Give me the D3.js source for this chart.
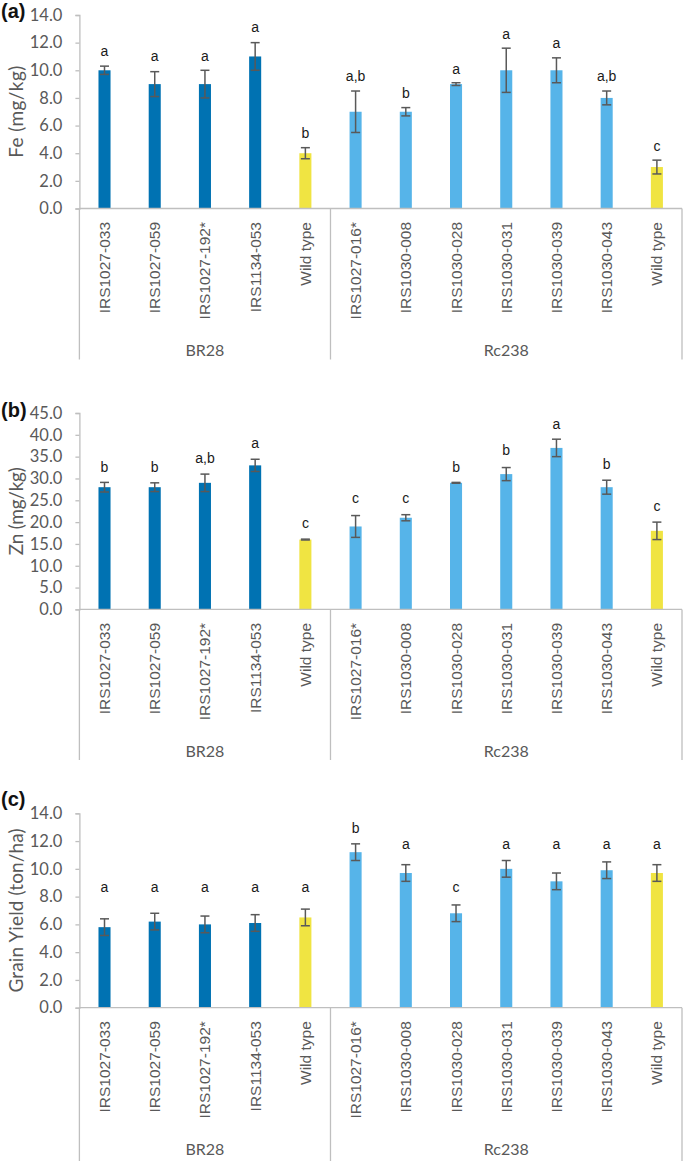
<!DOCTYPE html>
<html><head><meta charset="utf-8">
<script src="https://cdn.jsdelivr.net/npm/d3@7"></script>
<style>
html,body{margin:0;padding:0;background:#fff;}
svg{display:block;}
</style></head>
<body>
<svg id="chart" width="685" height="1161"></svg>
<script>
// ---------- data ----------
const categories = ["IRS1027-033","IRS1027-059","IRS1027-192*","IRS1134-053","Wild type",
  "IRS1027-016*","IRS1030-008","IRS1030-028","IRS1030-031","IRS1030-039","IRS1030-043","Wild type"];
const groups = ["BR28","Rc238"];
const groupSizes = [5, 7];
const barType = ["br","br","br","br","wt","rc","rc","rc","rc","rc","rc","wt"];

const feValues  = [10.0, 9.0, 9.0, 11.0, 4.0, 7.0, 7.0, 9.0, 10.0, 10.0, 8.0, 3.0];
const feErrors  = [0.3, 0.9, 1.0, 1.0, 0.4, 1.5, 0.3, 0.1, 1.6, 0.9, 0.5, 0.5];
const feLetters = ["a","a","a","a","b","a,b","b","a","a","a","a,b","c"];
const feLetterPos = [11.35, 10.98, 10.98, 13.1, 5.44, 9.54, 8.33, 10.09, 12.6, 11.95, 9.54, 4.52];
const feTicks = [0, 2, 4, 6, 8, 10, 12, 14];

const znValues  = [28, 28, 29, 33, 16, 19, 21, 29, 31, 37, 28, 18];
const znErrors  = [1.1, 1.0, 2.0, 1.4, 0.1, 2.5, 0.7, 0.1, 1.5, 2.0, 1.6, 2.0];
const znLetters = ["b","b","a,b","a","c","c","c","b","b","a","b","c"];
const znLetterPos = [32.5, 32.5, 34.5, 37.9, 19.7, 25.3, 25.3, 32.5, 36.3, 42.4, 33.3, 23.5];
const znTicks = [0, 5, 10, 15, 20, 25, 30, 35, 40, 45];

const yieldValues  = [5.8, 6.2, 6.0, 6.1, 6.5, 11.2, 9.7, 6.8, 10.0, 9.1, 9.9, 9.7];
const yieldErrors  = [0.6, 0.6, 0.6, 0.6, 0.6, 0.6, 0.6, 0.6, 0.6, 0.6, 0.6, 0.6];
const yieldLetters = ["a","a","a","a","a","b","a","c","a","a","a","a"];
const yieldLetterPos = [8.67, 8.67, 8.67, 8.67, 8.67, 12.9, 11.76, 8.64, 11.76, 11.76, 11.76, 11.76];
const yieldTicks = [0, 2, 4, 6, 8, 10, 12, 14];

const panelTags = ["(a)","(b)","(c)"];
const yTitles = ["Fe (mg/kg)","Zn (mg/kg)","Grain Yield (ton/ha)"];

// ---------- styling / layout ----------
const colors = {br:"#0072B2", rc:"#56B4E9", wt:"#F0E442"};
const gridCol = "#bfbfbf";
const textCol = "#595959";
const plotLeft = 79.4, plotRight = 682;

const panels = [
  {values:feValues, errors:feErrors, letters:feLetters, letterPos:feLetterPos, ticks:feTicks, top:15, zero:208.5, bottom:359.5, tagY:18, titleLen:92},
  {values:znValues, errors:znErrors, letters:znLetters, letterPos:znLetterPos, ticks:znTicks, top:413, zero:609.4, bottom:760, tagY:417, titleLen:88},
  {values:yieldValues, errors:yieldErrors, letters:yieldLetters, letterPos:yieldLetterPos, ticks:yieldTicks, top:813.3, zero:1007.7, bottom:1161, tagY:806, titleLen:164}
];

const svg = d3.select("#chart");
const x = d3.scaleBand().domain(d3.range(categories.length)).range([plotLeft, plotRight]).padding(0);
const barW = x.bandwidth() * 0.24;
const capW = 9;

panels.forEach((p, pi) => {
  const tmax = d3.max(p.ticks);
  const y = d3.scaleLinear().domain([0, tmax]).range([p.zero, p.top]);
  const g = svg.append("g");

  // y axis
  const yAxis = d3.axisLeft(y).tickValues(p.ticks).tickFormat(d3.format(".1f")).tickSize(4).tickPadding(13);
  const ya = g.append("g").attr("transform", `translate(${plotLeft},0)`).call(yAxis);
  ya.select(".domain").attr("stroke", gridCol).attr("stroke-width", 1.3);
  ya.selectAll(".tick line").attr("stroke", gridCol).attr("stroke-width", 1.3);
  ya.selectAll(".tick text").attr("fill", textCol).attr("font-family", "Lato, sans-serif").attr("font-size", "16.5px");

  // y title
  g.append("text")
    .attr("transform", `translate(15,${(p.top + p.zero) / 2}) rotate(-90)`)
    .attr("text-anchor", "middle").attr("dominant-baseline", "central")
    .attr("fill", textCol).attr("font-family", "Lato, sans-serif").attr("font-size", "19px")
    .attr("textLength", p.titleLen).attr("lengthAdjust", "spacing")
    .text(yTitles[pi]);

  // panel tag
  g.append("text").attr("x", 1).attr("y", p.tagY)
    .attr("font-family", "Liberation Sans, Arial, sans-serif").attr("font-weight", "bold")
    .attr("font-size", "20px").attr("fill", "#111").text(panelTags[pi]);

  // bars
  g.selectAll("rect.bar").data(p.values).enter().append("rect")
    .attr("x", (d, i) => x(i) + (x.bandwidth() - barW) / 2)
    .attr("y", d => y(d))
    .attr("width", barW)
    .attr("height", d => y(0) - y(d))
    .attr("fill", (d, i) => colors[barType[i]]);

  // error bars
  const eg = g.append("g").attr("stroke", "#595959").attr("stroke-width", 1.5);
  p.values.forEach((v, i) => {
    const cx = x(i) + x.bandwidth() / 2;
    const hi = y(v + p.errors[i]), lo = y(v - p.errors[i]);
    eg.append("line").attr("x1", cx).attr("x2", cx).attr("y1", hi).attr("y2", lo);
    eg.append("line").attr("x1", cx - capW / 2).attr("x2", cx + capW / 2).attr("y1", hi).attr("y2", hi);
    eg.append("line").attr("x1", cx - capW / 2).attr("x2", cx + capW / 2).attr("y1", lo).attr("y2", lo);
  });

  // significance letters
  g.selectAll("text.sig").data(p.letters).enter().append("text")
    .attr("x", (d, i) => x(i) + x.bandwidth() / 2)
    .attr("y", (d, i) => y(p.letterPos[i]) + 4.5)
    .attr("text-anchor", "middle")
    .attr("font-family", "Liberation Sans, Arial, sans-serif").attr("font-size", "14px")
    .attr("fill", "#1a1a1a").text(d => d);

  // x axis (multi-level)
  g.append("line").attr("x1", plotLeft).attr("x2", plotRight).attr("y1", y(0)).attr("y2", y(0))
    .attr("stroke", gridCol).attr("stroke-width", 1.3);
  let start = 0;
  const bounds = [0];
  groupSizes.forEach(s => { start += s; bounds.push(start); });
  bounds.forEach(b => {
    const bx = b < categories.length ? x(b) : plotRight;
    g.append("line").attr("x1", bx).attr("x2", bx).attr("y1", y(0)).attr("y2", p.bottom)
      .attr("stroke", gridCol).attr("stroke-width", 1.3);
  });
  groups.forEach((gn, gi) => {
    const x0 = x(bounds[gi]);
    const x1 = bounds[gi + 1] < categories.length ? x(bounds[gi + 1]) : plotRight;
    g.append("text").attr("x", (x0 + x1) / 2).attr("y", y(0) + 141)
      .attr("text-anchor", "middle").attr("dominant-baseline", "central")
      .attr("fill", textCol).attr("font-family", "Lato, sans-serif").attr("font-size", "16px")
      .text(gn);
  });

  // category labels
  g.selectAll("text.cat").data(categories).enter().append("text")
    .attr("transform", (d, i) => `translate(${x(i) + x.bandwidth() / 2},${y(0) + 13.5}) rotate(-90)`)
    .attr("text-anchor", "end").attr("dominant-baseline", "central")
    .attr("fill", textCol).attr("font-family", "Liberation Sans, Arial, sans-serif").attr("font-size", "15.5px")
    .text(d => d);
});
</script>
</body></html>
